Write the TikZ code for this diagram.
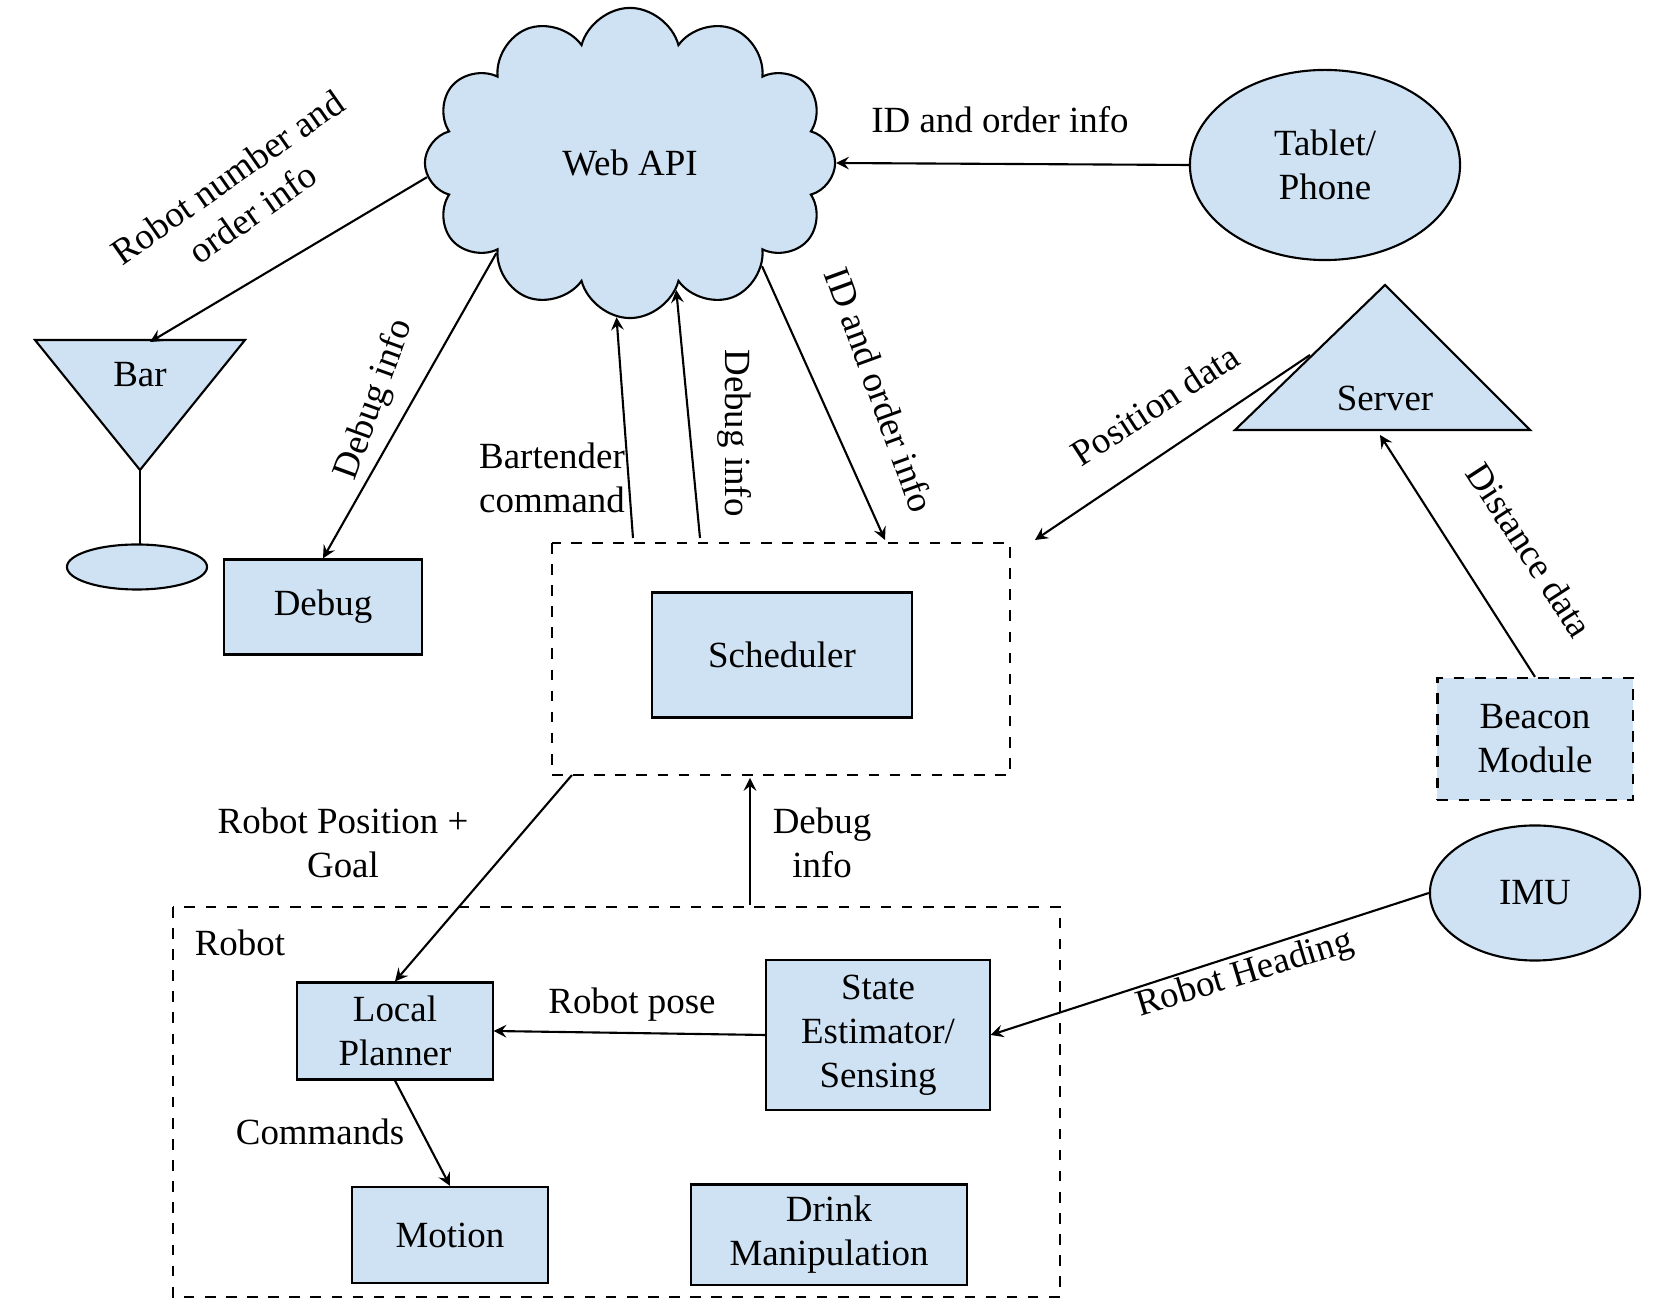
\documentclass[tikz,border=0pt]{standalone}
\usepackage{fontspec}
\setmainfont{Liberation Serif}
\usetikzlibrary{shapes.symbols,shapes.geometric}
\definecolor{boxblue}{HTML}{CFE2F3}
\tikzset{
  block/.style={draw, fill=boxblue, minimum width=#1, align=center, font=\fontsize{10.5}{12.5}\selectfont},
  frame/.style={draw, dashed},
  lbl/.style={align=center, font=\fontsize{10.5}{12.5}\selectfont},
  flow/.style={->, >=stealth},
}
\begin{document}
\begin{tikzpicture}[x=0.01cm, y=-0.01cm, line width=0.6pt]
      \useasboundingbox (0,0) rectangle (1665,1313);

      % web api and clients
      \node [cloud, cloud puffs=12, aspect=1.4, draw, fill=boxblue, minimum width=4.1cm, minimum height=3.1cm,
             lbl] (webapi) at (630,163) {Web API};
      \node [ellipse, draw, fill=boxblue, minimum width=2.7cm, minimum height=1.9cm, lbl] (tablet) at (1325,165) {Tablet/\\Phone};
      \filldraw [fill=boxblue] (1385,285) -- (1530,430) -- (1235,430) -- cycle;
      \node [lbl] (server) at (1385,398) {Server};
      \coordinate (servertip) at (1380,435);
      \coordinate (serverleft) at (1310,355);

      % bar
      \filldraw [fill=boxblue] (35,340) -- (245,340) -- (140,470) -- cycle;
      \node [lbl] (bar) at (140,375) {Bar};
      \coordinate (bartop) at (150,342);
      \draw (140,470) -- (140,545);
      \node [ellipse, draw, fill=boxblue, minimum width=1.4cm, minimum height=0.45cm] (barbase) at (137,567) {};

      \node [block=1.97cm, minimum height=0.95cm] (debug) at (323,607) {Debug};

      % scheduler
      \draw [frame] (552,543) rectangle (1010,775);
      \node [block=2.59cm, minimum height=1.25cm] (scheduler) at (782,655) {Scheduler};

      \node [block=1.95cm, minimum height=1.22cm, dashed] (beacon) at (1535,739) {Beacon\\Module};
      \node [ellipse, draw, fill=boxblue, minimum width=2.1cm, minimum height=1.35cm, lbl] (imu) at (1535,893) {IMU};

      % robot
      \draw [frame] (173,907) rectangle (1060,1297);
      \node [lbl] (robot) at (240,943) {Robot};
      \node [block=1.95cm, minimum height=0.97cm] (local) at (395,1031) {Local\\Planner};
      \node [block=2.23cm, minimum height=1.5cm] (state) at (878,1035) {State\\Estimator/\\Sensing};
      \node [block=1.96cm, minimum height=0.96cm] (motion) at (450,1235) {Motion};
      \node [block=2.75cm, minimum height=0.96cm] (drink) at (829,1235) {Drink\\Manipulation};

      % connectors
      \draw [flow] (webapi.184) -- (bartop);
      \draw [flow] (webapi.214) -- (debug.north);
      \draw [flow] (633,538) -- (webapi.265);
      \draw [flow] (700,538) -- (webapi.290);
      \draw [flow] (webapi.322) -- (885,540);
      \draw [flow] (tablet.west) -- (webapi.east);
      \draw [flow] (serverleft) -- (1035,540);
      \draw [flow] (beacon.north) -- (servertip);
      \draw [flow] (572,775) -- (local.north);
      \draw [flow] (750,905) -- (750,778);
      \draw [flow] (imu.west) -- (state.east);
      \draw [flow] (state.west) -- (local.east);
      \draw [flow] (local.south) -- (motion.north);

      % labels
      \node [lbl, rotate=35] at (240,195) {Robot number and\\order info};
      \node [lbl, rotate=70] at (375,400) {Debug info};
      \node [lbl] at (552,478) {Bartender\\command};
      \node [lbl, rotate=-90] at (735,433) {Debug info};
      \node [lbl, rotate=-70] at (880,390) {ID and order info};
      \node [lbl] at (1000,120) {ID and order info};
      \node [lbl, rotate=33] at (1155,405) {Position data};
      \node [lbl, rotate=-57] at (1530,550) {Distance data};
      \node [lbl] at (343,843) {Robot Position +\\Goal};
      \node [lbl] at (822,843) {Debug\\info};
      \node [lbl, rotate=17] at (1245,975) {Robot Heading};
      \node [lbl] at (632,1005) {Robot pose};
      \node [lbl] at (320,1132) {Commands};
\end{tikzpicture}
\end{document}
